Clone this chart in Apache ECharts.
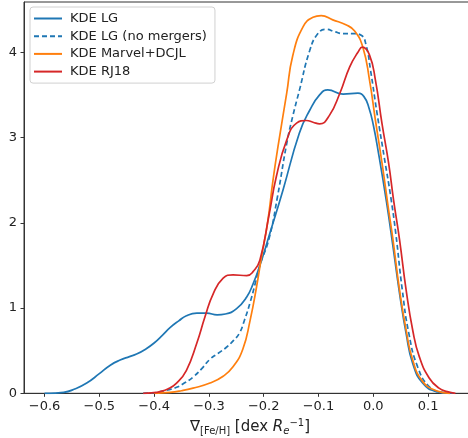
<!DOCTYPE html>
<html>
<head>
<meta charset="utf-8">
<script src="https://cdn.jsdelivr.net/npm/echarts@6/dist/echarts.min.js"></script>
<style>
  html, body { margin: 0; padding: 0; background: #fff; }
  #chart { width: 468px; height: 438px; }
</style>
</head>
<body>
<div id="chart"></div>
<script>
// tick values
const xTicks = [-0.6, -0.5, -0.4, -0.3, -0.2, -0.1, 0.0, 0.1];
const yTicks = [0, 1, 2, 3, 4];

// KDE LG
const lgX = [-0.6, -0.58, -0.565, -0.545, -0.523, -0.5, -0.48, -0.462, -0.445, -0.432, -0.415, -0.4, -0.385, -0.371, -0.355, -0.341, -0.322, -0.304, -0.285, -0.27, -0.25, -0.231, -0.219, -0.207, -0.19, -0.165, -0.135, -0.116, -0.098, -0.083, -0.055, -0.028, -0.017, -0.008, 0.0, 0.01, 0.024, 0.036, 0.048, 0.06, 0.072, 0.09, 0.115, 0.14];
const lgY = [0, 0.003, 0.01, 0.05, 0.12, 0.23, 0.33, 0.39, 0.43, 0.46, 0.52, 0.59, 0.68, 0.77, 0.85, 0.91, 0.94, 0.94, 0.92, 0.93, 0.99, 1.13, 1.29, 1.5, 1.85, 2.38, 3.05, 3.32, 3.5, 3.56, 3.51, 3.52, 3.48, 3.35, 3.15, 2.8, 2.25, 1.72, 1.17, 0.7, 0.35, 0.12, 0.02, 0];

// KDE LG (no mergers)
const nmX = [-0.42, -0.4, -0.389, -0.375, -0.359, -0.345, -0.329, -0.313, -0.298, -0.283, -0.268, -0.255, -0.244, -0.235, -0.225, -0.215, -0.207, -0.19, -0.175, -0.158, -0.147, -0.135, -0.116, -0.101, -0.086, -0.07, -0.055, -0.037, -0.022, -0.013, -0.005, 0.007, 0.02, 0.032, 0.041, 0.053, 0.065, 0.081, 0.102, 0.126, 0.15];
const nmY = [0, 0.005, 0.02, 0.04, 0.07, 0.12, 0.19, 0.29, 0.4, 0.47, 0.54, 0.62, 0.71, 0.86, 1.06, 1.3, 1.5, 1.82, 2.3, 2.93, 3.25, 3.55, 4.02, 4.22, 4.27, 4.24, 4.22, 4.22, 4.2, 4.08, 3.79, 3.28, 2.77, 2.3, 1.88, 1.21, 0.7, 0.31, 0.08, 0.01, 0];

// KDE Marvel+DCJL
const mvX = [-0.4, -0.371, -0.35, -0.329, -0.298, -0.274, -0.256, -0.238, -0.225, -0.213, -0.204, -0.193, -0.183, -0.174, -0.158, -0.147, -0.128, -0.11, -0.095, -0.074, -0.049, -0.034, -0.019, -0.007, 0.004, 0.016, 0.028, 0.036, 0.048, 0.06, 0.072, 0.09, 0.115, 0.14];
const mvY = [0, 0.01, 0.03, 0.06, 0.12, 0.2, 0.31, 0.52, 0.85, 1.25, 1.6, 2.0, 2.5, 2.89, 3.52, 3.96, 4.3, 4.41, 4.43, 4.38, 4.32, 4.25, 4.06, 3.68, 3.2, 2.7, 2.15, 1.8, 1.21, 0.74, 0.39, 0.14, 0.03, 0];

// KDE RJ18
const rjX = [-0.42, -0.405, -0.389, -0.375, -0.359, -0.341, -0.322, -0.307, -0.292, -0.274, -0.256, -0.231, -0.219, -0.207, -0.19, -0.177, -0.158, -0.14, -0.122, -0.11, -0.098, -0.08, -0.061, -0.043, -0.028, -0.02, -0.007, 0.004, 0.016, 0.028, 0.037, 0.048, 0.06, 0.072, 0.084, 0.102, 0.12, 0.135, 0.15];
const rjY = [0, 0.005, 0.02, 0.05, 0.12, 0.27, 0.59, 0.9, 1.17, 1.35, 1.39, 1.38, 1.43, 1.56, 2.1, 2.54, 2.97, 3.17, 3.2, 3.18, 3.16, 3.26, 3.52, 3.83, 4.0, 4.06, 3.97, 3.67, 3.16, 2.7, 2.27, 1.8, 1.21, 0.74, 0.43, 0.18, 0.06, 0.02, 0];

function pairs(xs, ys) {
    return xs.map((x, i) => [x, ys[i]]);
}

function fmtMinus(v) {
    return String(v).replace('-', '\u2212');
}

function makeSeries(name, xs, ys, color, dashed) {
    return {
        name: name,
        type: 'line',
        data: pairs(xs, ys),
        smooth: true,
        symbol: 'none',
        silent: true,
        lineStyle: {
            color: color,
            width: 1.7,
            type: dashed ? [5, 3] : 'solid'
        },
        itemStyle: { color: color }
    };
}

const chart = echarts.init(document.getElementById('chart'));

const option = {
    animation: false,
    textStyle: { fontFamily: 'DejaVu Sans' },
    grid: {
        left: 24,
        right: -8,
        top: 2,
        bottom: 44.7,
        outerBoundsMode: 'none',
        containLabel: false,
        show: true,
        borderColor: '#333',
        borderWidth: 1
    },
    legend: {
        orient: 'vertical',
        left: 30,
        top: 7,
        itemWidth: 28,
        itemHeight: 13,
        itemGap: 4.7,
        padding: [5, 8, 5, 3],
        backgroundColor: '#fff',
        borderColor: '#d0d0d0',
        borderWidth: 1,
        borderRadius: 3,
        itemStyle: { opacity: 0 },
        textStyle: {
            fontSize: 13,
            color: '#222',
            fontFamily: 'DejaVu Sans',
            padding: [0, 0, 0, 3]
        },
        data: ['KDE LG', 'KDE LG (no mergers)', 'KDE Marvel+DCJL', 'KDE RJ18']
    },
    xAxis: {
        type: 'value',
        min: -0.6375,
        max: 0.1875,
        splitLine: { show: false },
        axisLine: { show: true, onZero: false, lineStyle: { color: '#333', width: 1 } },
        axisTick: {
            show: true,
            length: 3.5,
            lineStyle: { color: '#333' },
            customValues: xTicks
        },
        axisLabel: {
            fontSize: 13,
            color: '#222',
            margin: 7,
            customValues: xTicks,
            formatter: v => fmtMinus(v.toFixed(1))
        },
        name: '\u2207{sub|[Fe/H]} [dex {it|R}{sub2|e}{sup|\u22121}]',
        nameLocation: 'middle',
        nameGap: 24,
        nameTextStyle: {
            fontSize: 15,
            color: '#222',
            fontFamily: 'DejaVu Sans',
            rich: {
                sub: { fontSize: 10, color: '#222', padding: [8, 0, 0, 0] },
                sub2: { fontSize: 10, color: '#222', fontStyle: 'italic', padding: [8, 0, 0, 0] },
                it: { fontSize: 15, color: '#222', fontStyle: 'italic' },
                sup: { fontSize: 10, color: '#222', padding: [0, 0, 8, 0] }
            }
        }
    },
    yAxis: {
        type: 'value',
        min: 0,
        max: 4.59,
        splitLine: { show: false },
        axisLine: { show: true, onZero: false, lineStyle: { color: '#333', width: 1 } },
        axisTick: {
            show: true,
            length: 3.5,
            lineStyle: { color: '#333' },
            customValues: yTicks
        },
        axisLabel: {
            fontSize: 13,
            color: '#222',
            margin: 7,
            customValues: yTicks,
            formatter: v => String(v)
        }
    },
    series: [
        makeSeries('KDE LG', lgX, lgY, '#1f77b4', false),
        makeSeries('KDE LG (no mergers)', nmX, nmY, '#1f77b4', true),
        makeSeries('KDE Marvel+DCJL', mvX, mvY, '#ff7f0e', false),
        makeSeries('KDE RJ18', rjX, rjY, '#d62728', false)
    ]
};

chart.setOption(option);
</script>
</body>
</html>
